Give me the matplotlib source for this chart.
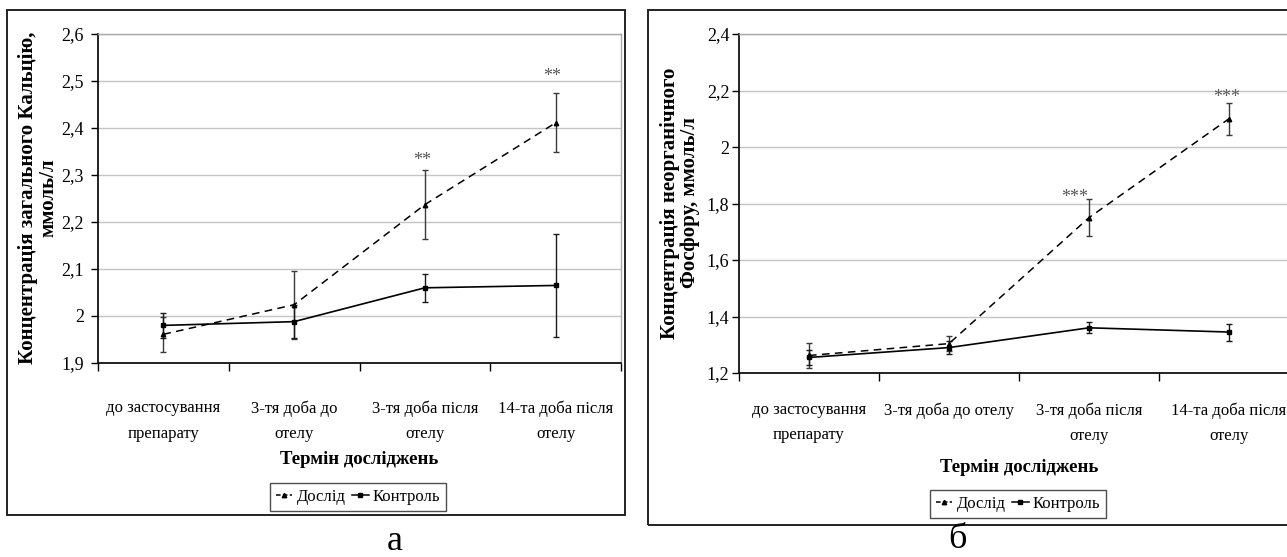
import matplotlib
matplotlib.use('Agg')
import matplotlib.pyplot as plt
from matplotlib.patches import Rectangle
from matplotlib.lines import Line2D
import numpy as np

W, H = 1287, 557
plt.rcParams['font.family'] = ['Liberation Serif', 'DejaVu Serif']

# ---------------- data ----------------
categories_a = ['до застосування\nпрепарату', '3-тя доба до\nотелу',
                '3-тя доба після\nотелу', '14-та доба після\nотелу']
categories_b = ['до застосування\nпрепарату', '3-тя доба до отелу',
                '3-тя доба після\nотелу', '14-та доба після\nотелу']
series_names = ['Дослід', 'Контроль']

ca_exp = [1.961, 2.024, 2.237, 2.411]
ca_exp_err = [0.037, 0.072, 0.074, 0.063]
ca_ctl = [1.980, 1.988, 2.060, 2.065]
ca_ctl_err = [0.027, 0.035, 0.030, 0.109]
ca_stars = ['', '', '**', '**']
ca_star_y = [None, None, 2.330, 2.510]
ca_yticks = [1.9, 2.0, 2.1, 2.2, 2.3, 2.4, 2.5, 2.6]
ca_yticklabels = ['1,9', '2', '2,1', '2,2', '2,3', '2,4', '2,5', '2,6']

p_exp = [1.262, 1.304, 1.750, 2.100]
p_exp_err = [0.044, 0.027, 0.065, 0.056]
p_ctl = [1.255, 1.290, 1.360, 1.345]
p_ctl_err = [0.026, 0.022, 0.020, 0.030]
p_stars = ['', '', '***', '***']
p_star_y = [None, None, 1.822, 2.175]
p_yticks = [1.2, 1.4, 1.6, 1.8, 2.0, 2.2, 2.4]
p_yticklabels = ['1,2', '1,4', '1,6', '1,8', '2', '2,2', '2,4']

fig = plt.figure(figsize=(W / 100, H / 100), dpi=100)


def fx(px):
    return px / W


def fy(py):
    return 1 - py / H


def panel(ax_px, ylim, yticks, yticklabels, cats, exp, exp_err, ctl, ctl_err,
          stars, star_y, star_dx, ylabel, ylabel_px, xlabel_px, box_px,
          legend_px, letter, letter_px, label_pad, ytick_pad):
    x0, y0, x1, y1 = ax_px
    ax = fig.add_axes([fx(x0), fy(y1), (x1 - x0) / W, (y1 - y0) / H])
    ax.set_xlim(0, 4)
    ax.set_ylim(*ylim)
    x = np.arange(len(cats)) + 0.5
    ax.set_xticks(x)
    ax.set_xticklabels(cats, fontsize=12, linespacing=1.75, va='top')
    ax.set_xticks(np.arange(5), minor=True)
    ax.tick_params(axis='x', which='major', length=0, pad=label_pad)
    ax.tick_params(axis='x', which='minor', length=6, width=1, direction='out')
    ax.set_yticks(yticks)
    ax.set_yticklabels(yticklabels, fontsize=13)
    ax.tick_params(axis='y', length=5, width=1, direction='out', pad=ytick_pad)
    ax.yaxis.grid(True, color='#c4c4c4', lw=1)
    ax.set_axisbelow(True)
    for s in ['left', 'bottom']:
        ax.spines[s].set_color('#111111')
        ax.spines[s].set_linewidth(1.3)
    for s in ['top', 'right']:
        ax.spines[s].set_color('#a8a8a8')
        ax.spines[s].set_linewidth(1.0)

    ax.errorbar(x, exp, yerr=exp_err, fmt='none', ecolor='#3a3a3a',
                elinewidth=1.0, capsize=2.5, capthick=1.0, zorder=3)
    ax.errorbar(x, ctl, yerr=ctl_err, fmt='none', ecolor='#1a1a1a',
                elinewidth=1.0, capsize=2.5, capthick=1.0, zorder=3)
    ax.plot(x, exp, color='black', lw=1.1, ls=(0, (5, 3.5)), marker='^',
            ms=3.2, zorder=4)
    ax.plot(x, ctl, color='black', lw=1.2, ls='-', marker='s', ms=2.8,
            zorder=4)
    for xi, s, sy, dx in zip(x, stars, star_y, star_dx):
        if s:
            ax.text(xi + dx, sy, s, ha='center', va='center', fontsize=13,
                    color='#555555')

    fig.text(fx(ylabel_px[0]), fy(ylabel_px[1]), ylabel, rotation=90,
             ha='center', va='center', fontsize=15, fontweight='bold',
             linespacing=1.05)
    fig.text(fx(xlabel_px[0]), fy(xlabel_px[1]), 'Термін досліджень',
             ha='center', va='center', fontsize=13.5, fontweight='bold')

    bx0, by0, bx1, by1 = box_px
    fig.patches.append(Rectangle((fx(bx0), fy(by1)), (bx1 - bx0) / W,
                                 (by1 - by0) / H, transform=fig.transFigure,
                                 fill=False, ec='#222222', lw=1.4))

    handles = [Line2D([], [], color='black', lw=1.1, ls=(0, (3, 1.5)),
                      marker='^', ms=3.2),
               Line2D([], [], color='black', lw=1.1, ls='-', marker='s',
                      ms=2.8)]
    leg = fig.legend(handles, series_names, loc='center',
                     bbox_to_anchor=(fx(legend_px[0]), fy(legend_px[1])),
                     ncol=2, fontsize=12, frameon=True, fancybox=False,
                     edgecolor='#222222', handlelength=1.0,
                     handletextpad=0.25, columnspacing=0.4, borderpad=0.35,
                     borderaxespad=0, numpoints=1)
    leg.get_frame().set_linewidth(1.0)
    fig.text(fx(letter_px[0]), fy(letter_px[1]), letter, ha='center',
             va='center', fontsize=26)
    return ax


panel((98, 34, 621, 363), (1.9, 2.6), ca_yticks, ca_yticklabels,
      categories_a, ca_exp, ca_exp_err, ca_ctl, ca_ctl_err,
      ca_stars, ca_star_y, [0, 0, -0.02, -0.03],
      'Концентрація загального Кальцію,\nммоль/л', (38, 198), (359, 460),
      (7, 10, 625, 515), (358, 497), 'а', (395, 542), 27, 5)

panel((739, 34, 1299, 373), (1.2, 2.4), p_yticks, p_yticklabels,
      categories_b, p_exp, p_exp_err, p_ctl, p_ctl_err,
      p_stars, p_star_y, [0, 0, -0.1, -0.02],
      'Концентрація неорганічного\nФосфору, ммоль/л', (680, 203), (1019, 468),
      (648, 10, 1295, 525), (1018, 504), 'б', (957, 540), 21, 2)

fig.savefig('out.png', dpi=100)
